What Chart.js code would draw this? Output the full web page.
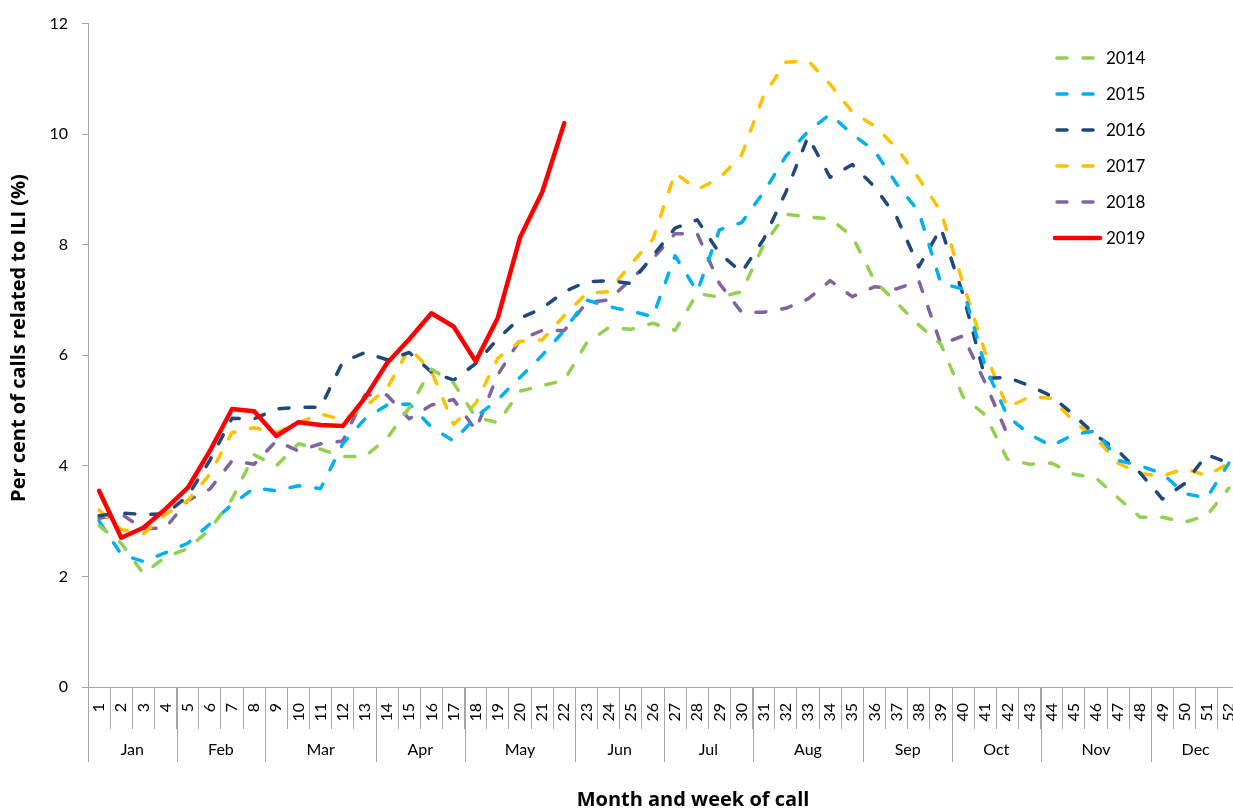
<!DOCTYPE html>
<html><head><meta charset="utf-8">
<script src="https://cdn.jsdelivr.net/npm/chart.js@4.4.1/dist/chart.umd.min.js"></script>
<style>html,body{margin:0;padding:0;background:#fff;overflow:hidden;width:1233px;height:812px}#c{display:block}</style>
</head><body>
<canvas id="c" width="1240" height="812"></canvas>
<script>
// ---------- DATA ----------
const weeks = ['1','2','3','4','5','6','7','8','9','10','11','12','13','14','15','16','17','18','19','20','21','22','23','24','25','26',
               '27','28','29','30','31','32','33','34','35','36','37','38','39','40','41','42','43','44','45','46','47','48','49','50','51','52'];
const months = ['Jan','Feb','Mar','Apr','May','Jun','Jul','Aug','Sep','Oct','Nov','Dec'];
const monthWeekCounts = [4,4,5,4,5,4,4,5,4,4,5,4];
const yTicks = [0,2,4,6,8,10,12];
const years = ['2014','2015','2016','2017','2018','2019'];

const y2014 = [2.92,2.6,2.05,2.35,2.5,2.85,3.4,4.2,4.0,4.4,4.3,4.17,4.17,4.5,5.05,5.75,5.5,4.88,4.78,5.35,5.45,5.55,6.22,6.5,6.47,6.58,6.45,7.12,7.05,7.15,8.0,8.55,8.5,8.47,8.15,7.35,6.95,6.55,6.2,5.25,4.92,4.12,4.03,4.05,3.85,3.78,3.42,3.07,3.07,2.98,3.1,3.6];
const y2015 = [3.0,2.4,2.27,2.43,2.6,2.95,3.3,3.6,3.55,3.64,3.59,4.4,4.85,5.1,5.12,4.7,4.45,4.88,5.2,5.6,6.0,6.45,7.0,6.88,6.8,6.7,7.8,7.15,8.27,8.4,8.95,9.6,10.05,10.36,10.0,9.7,9.1,8.6,7.3,7.2,5.8,4.9,4.57,4.36,4.57,4.63,4.1,4.0,3.86,3.5,3.42,4.05];
const y2016 = [3.1,3.15,3.12,3.13,3.45,4.1,4.86,4.85,5.03,5.06,5.06,5.88,6.05,5.92,6.05,5.7,5.55,5.85,6.3,6.67,6.85,7.15,7.33,7.35,7.3,7.8,8.3,8.45,7.85,7.5,8.1,8.95,9.95,9.22,9.45,9.05,8.5,7.6,8.3,7.1,5.58,5.6,5.45,5.26,4.92,4.55,4.27,3.87,3.4,3.68,4.2,4.05];
const y2017 = [3.2,2.85,2.77,3.12,3.37,3.85,4.6,4.69,4.6,4.78,4.94,4.83,5.07,5.4,6.13,5.72,4.75,5.13,5.95,6.25,6.28,6.72,7.12,7.15,7.65,8.1,9.3,9.0,9.2,9.62,10.7,11.3,11.33,10.9,10.4,10.15,9.75,9.2,8.6,7.3,6.05,5.05,5.25,5.22,4.8,4.5,4.05,3.86,3.82,3.95,3.82,4.05];
const y2018 = [3.05,3.13,2.86,2.88,3.37,3.58,4.09,4.03,4.45,4.27,4.4,4.45,5.28,5.28,4.85,5.1,5.2,4.65,5.65,6.28,6.45,6.45,6.95,7.0,7.37,7.75,8.2,8.2,7.3,6.78,6.78,6.85,7.02,7.35,7.06,7.24,7.2,7.35,6.2,6.35,5.5,4.57];
const y2019 = [3.55,2.7,2.88,3.22,3.6,4.27,5.03,4.99,4.54,4.79,4.74,4.72,5.23,5.86,6.29,6.76,6.52,5.89,6.68,8.13,8.95,10.2];

// ---------- STYLE ----------
const FONT = 'Lato, "Open Sans", sans-serif';
const TITLE_FONT = '"Open Sans", Lato, sans-serif';
const GRAY = '#a6a6a6';
const seriesColors = ['#92D050','#00B0F0','#1F497D','#FFC000','#8064A2','#FF0000'];
const seriesValues = [y2014,y2015,y2016,y2017,y2018,y2019];

const datasets = years.map((yr, i) => {
  const solid = i === 5;
  return {
    label: yr,
    data: seriesValues[i],
    borderColor: seriesColors[i],
    backgroundColor: seriesColors[i],
    borderWidth: solid ? 4.5 : 3.5,
    borderDash: solid ? [] : [10, 16],
    borderCapStyle: 'round',
    borderJoinStyle: 'round',
    pointRadius: 0,
    tension: 0,
    fill: false,
    order: solid ? 0 : 1
  };
});

// month groups + separators under the axis
const monthPlugin = {
  id: 'monthGroups',
  afterDraw(chart) {
    const x = chart.scales.x, ctx = chart.ctx;
    const n = weeks.length;
    const boundary = (i) => {
      if (i <= 0) return x.left;
      if (i >= n) return x.right;
      return (x.getPixelForValue(i - 1) + x.getPixelForValue(i)) / 2;
    };
    ctx.save();
    ctx.strokeStyle = GRAY; ctx.lineWidth = 1;
    ctx.fillStyle = '#000';
    ctx.font = '16px ' + FONT;
    ctx.textAlign = 'center'; ctx.textBaseline = 'middle';
    let start = 0;
    const top = x.top;
    months.forEach((m, k) => {
      const end = start + monthWeekCounts[k];
      const bx0 = Math.round(boundary(start)) + 0.5;
      const bx1 = Math.round(boundary(end)) + 0.5;
      ctx.beginPath(); ctx.moveTo(bx0, top); ctx.lineTo(bx0, top + 75); ctx.stroke();
      if (k === months.length - 1) { ctx.beginPath(); ctx.moveTo(bx1, top); ctx.lineTo(bx1, top + 75); ctx.stroke(); }
      ctx.fillText(m, (boundary(start) + boundary(end)) / 2, top + 63);
      start = end;
    });
    ctx.restore();
  }
};

// axis titles + legend
const decorPlugin = {
  id: 'decor',
  afterDraw(chart) {
    const ctx = chart.ctx;
    ctx.save();
    ctx.fillStyle = '#000';
    ctx.font = 'bold 20px ' + TITLE_FONT;
    ctx.textAlign = 'center'; ctx.textBaseline = 'middle';
    ctx.fillText('Month and week of call', 693, 800);
    ctx.translate(19, 338);
    ctx.rotate(-Math.PI / 2);
    ctx.fillText('Per cent of calls related to ILI (%)', 0, 0);
    ctx.restore();

    // legend
    ctx.save();
    ctx.font = '17px ' + FONT;
    ctx.textAlign = 'left'; ctx.textBaseline = 'middle';
    chart.data.datasets.forEach((ds, i) => {
      const yy = 58 + i * 36;
      const dashed = ds.borderDash && ds.borderDash.length;
      ctx.strokeStyle = ds.borderColor;
      ctx.lineWidth = ds.borderWidth;
      ctx.lineCap = 'round';
      ctx.setLineDash(ds.borderDash || []);
      ctx.beginPath();
      if (dashed) { ctx.moveTo(1057, yy); ctx.lineTo(1096, yy); }
      else { ctx.moveTo(1055, yy); ctx.lineTo(1100, yy); }
      ctx.stroke();
      ctx.setLineDash([]);
      ctx.fillStyle = '#000';
      ctx.fillText(ds.label, 1106, yy + 1);
    });
    ctx.restore();
  }
};

new Chart(document.getElementById('c'), {
  type: 'line',
  data: { labels: weeks, datasets },
  options: {
    responsive: false,
    devicePixelRatio: 1,
    animation: false,
    layout: { padding: { top: 21, right: 0, left: 0, bottom: 0 } },
    plugins: { legend: { display: false }, tooltip: { enabled: false }, title: { display: false } },
    scales: {
      x: {
        type: 'category',
        offset: true,
        grid: { offset: true, drawOnChartArea: false, drawTicks: true, tickLength: 42, color: GRAY, lineWidth: 1 },
        border: { display: true, color: GRAY, width: 1 },
        ticks: { autoSkip: false, minRotation: 90, maxRotation: 90, color: '#000', font: { family: FONT, size: 16 }, padding: -26 },
        afterFit(s) { s.height = 125; }
      },
      y: {
        min: 0, max: 12,
        afterBuildTicks(s) { s.ticks = yTicks.map(v => ({ value: v })); },
        grid: { drawOnChartArea: false, drawTicks: true, tickLength: 6, color: GRAY, lineWidth: 1 },
        border: { display: true, color: GRAY, width: 1 },
        ticks: { color: '#000', font: { family: FONT, size: 16 }, padding: 14 },
        afterFit(s) { s.width = 88; }
      }
    }
  },
  plugins: [monthPlugin, decorPlugin]
});
</script>
</body></html>
